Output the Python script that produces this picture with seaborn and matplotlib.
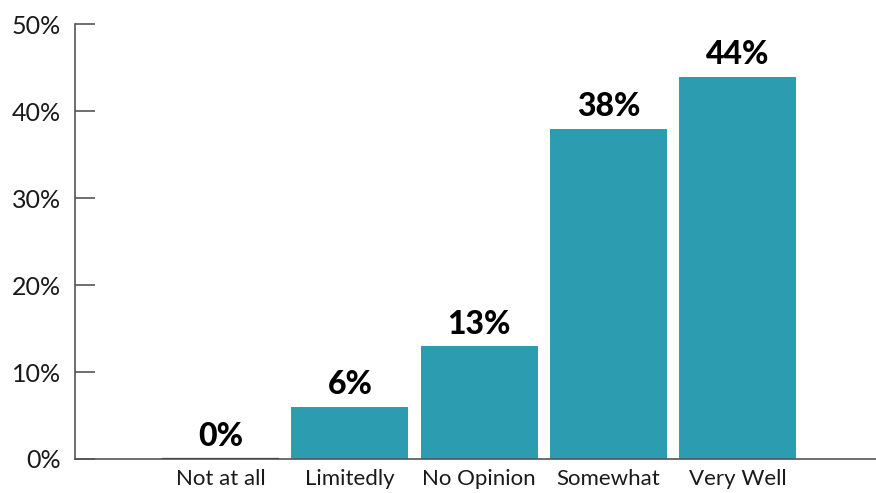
import matplotlib
matplotlib.use("Agg")
import matplotlib.pyplot as plt
import seaborn as sns
import pandas as pd

categories = ["Not at all", "Limitedly", "No Opinion", "Somewhat", "Very Well"]
values = [0, 6, 13, 38, 44]
yticks = [0, 10, 20, 30, 40, 50]
ytick_labels = ["0%", "10%", "20%", "30%", "40%", "50%"]

bar_color = "#2C9DB0"
text_color = "#1a1a1a"

sns.set_style("white")
plt.rcParams["font.family"] = ["Lato", "DejaVu Sans"]

df = pd.DataFrame({"category": categories, "value": values})

fig = plt.figure(figsize=(8.76, 4.93), dpi=100)
ax = fig.add_axes([75 / 876, 34 / 493, 1 - 75 / 876, (459 - 24.5) / 493])

sns.barplot(data=df, x="category", y="value", order=categories,
            color=bar_color, saturation=1, width=0.905, linewidth=0, ax=ax)

# zero-valued bar shown as a dark baseline stroke
zero_bar = ax.patches[0]
zero_bar.set_edgecolor("#111111")
zero_bar.set_linewidth(1.6)

for patch, v in zip(ax.patches, values):
    ax.annotate(f"{v}%", (patch.get_x() + patch.get_width() / 2, v),
                xytext=(0, 9), textcoords="offset points",
                ha="center", va="baseline", fontsize=23, fontweight="black",
                color="#000000")

ax.set_xlim(-1.126, 5.07)
ax.set_ylim(0, 50)
ax.set_yticks(yticks)
ax.set_yticklabels(ytick_labels)
ax.set_xlabel("")
ax.set_ylabel("")

for side in ["top", "right"]:
    ax.spines[side].set_visible(False)
ax.spines["left"].set_color("#555555")
ax.spines["bottom"].set_color("#555555")
ax.spines["left"].set_linewidth(1.2)
ax.spines["bottom"].set_linewidth(1.2)

ax.tick_params(axis="y", direction="in", length=14.4, width=1.2, color="#555555",
               pad=10, labelsize=18, labelcolor=text_color, left=True)
ax.tick_params(axis="x", length=0, pad=7, labelsize=16, labelcolor=text_color)

fig.savefig("out.png", dpi=100)
